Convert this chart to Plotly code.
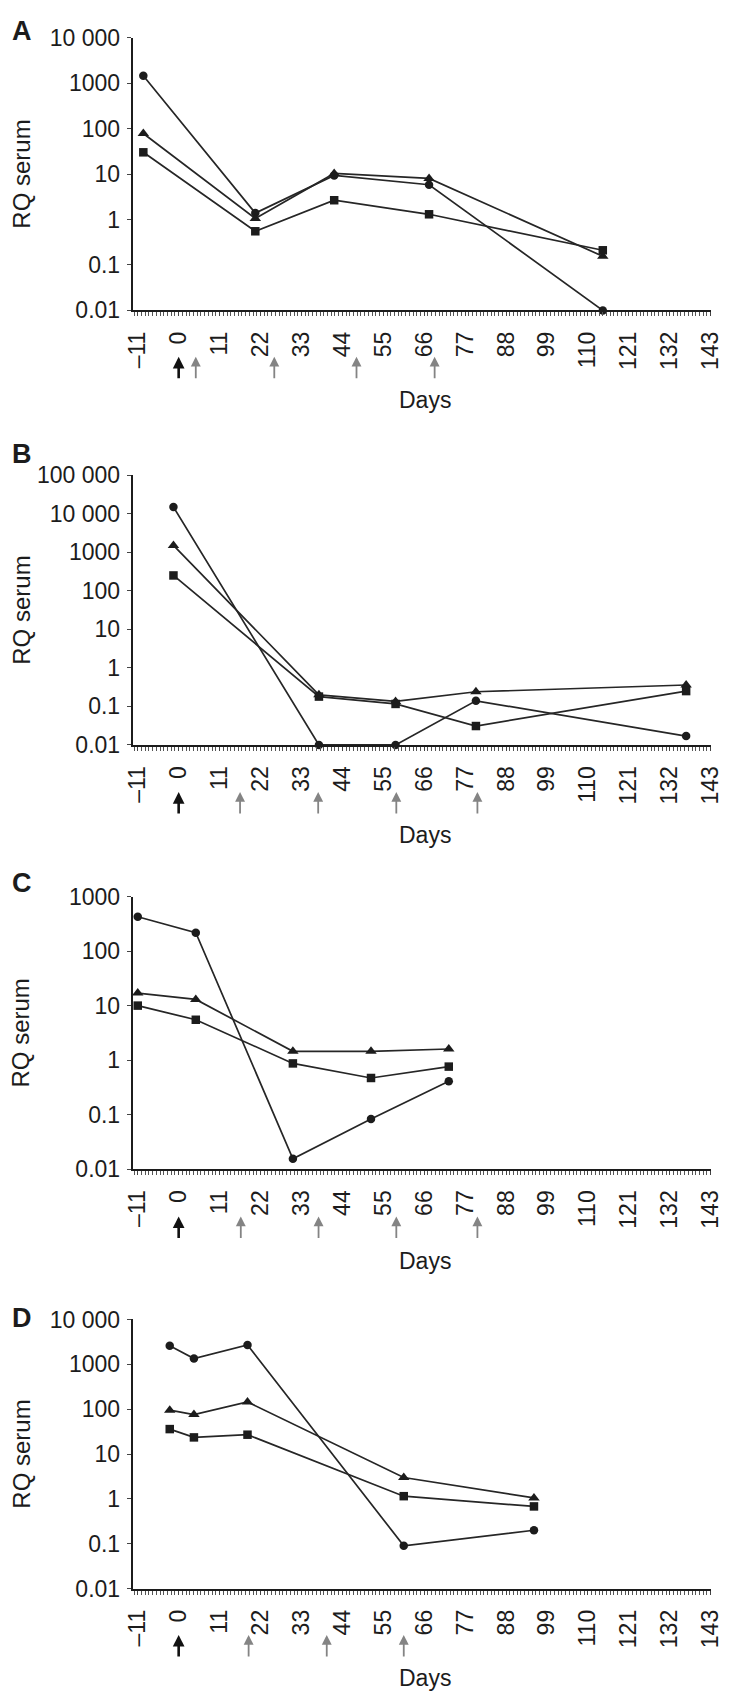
import plotly.graph_objects as go

W, H = 739, 1706

# ---------------- data ----------------
tick_days = list(range(-11, 144, 11))

daysA = [-9.5, 20.6, 41.8, 67.3, 114.0]
circleA = [1450, 1.38, 9.3, 5.8, 0.01]
triangleA = [78, 1.05, 10.3, 8.0, 0.155]
squareA = [30, 0.55, 2.65, 1.3, 0.21]
arrowsA_black = [0]
arrowsA_gray = [4.6, 25.7, 47.8, 68.8]

daysB = [-1.4, 37.7, 58.3, 79.9, 136.4]
circleB = [14900, 0.01, 0.01, 0.14, 0.017]
triangleB = [1500, 0.2, 0.135, 0.24, 0.36]
squareB = [250, 0.18, 0.116, 0.031, 0.25]
arrowsB_black = [0]
arrowsB_gray = [16.5, 37.5, 58.5, 80.3]

daysC = [-11.0, 4.6, 30.7, 51.7, 72.6]
circleC = [427, 217, 0.0155, 0.083, 0.41]
triangleC = [17, 13, 1.45, 1.45, 1.6]
squareC = [10, 5.5, 0.87, 0.47, 0.76]
arrowsC_black = [0]
arrowsC_gray = [16.7, 37.6, 58.5, 80.3]

daysD = [-2.4, 4.1, 18.5, 60.5, 95.5]
circleD = [2600, 1350, 2700, 0.09, 0.2]
triangleD = [95, 76, 145, 3.0, 1.05]
squareD = [36, 23.5, 27, 1.15, 0.68]
arrowsD_black = [0]
arrowsD_gray = [18.8, 39.8, 60.5]

ytick_vals = [0.01, 0.1, 1, 10, 100, 1000, 10000, 100000]
ytick_text = ["0.01", "0.1", "1", "10", "100", "1000", "10 000", "100 000"]
# ---------------------------------------

FONT = "Liberation Sans, Arial, sans-serif"
INK = "#1c1c1c"


def pyp(p):
    return 1 - p / H


def pxp(p):
    return p / W


panels = [
    dict(letter="A", days=daysA, c=circleA, t=triangleA, s=squareA,
         ab=arrowsA_black, ag=arrowsA_gray, top=25, bot=302, ymax=4,
         letter_y=18, days_y=393, arrow_y=349),
    dict(letter="B", days=daysB, c=circleB, t=triangleB, s=squareB,
         ab=arrowsB_black, ag=arrowsB_gray, top=469.3, bot=743.3, ymax=5,
         letter_y=448, days_y=835, arrow_y=791),
    dict(letter="C", days=daysC, c=circleC, t=triangleC, s=squareC,
         ab=arrowsC_black, ag=arrowsC_gray, top=897.3, bot=1174, ymax=3,
         letter_y=883, days_y=1267, arrow_y=1222),
    dict(letter="D", days=daysD, c=circleD, t=triangleD, s=squareD,
         ab=arrowsD_black, ag=arrowsD_gray, top=1326.7, bot=1600, ymax=4,
         letter_y=1325, days_y=1691, arrow_y=1647),
]

X_LEFT, X_RIGHT = 128, 723
XRANGE = [-12.4, 143.2]

fig = go.Figure()
annotations = []
layout = {}

for i, p in enumerate(panels):
    n = "" if i == 0 else str(i + 1)
    xa, ya = "x" + n, "y" + n
    for vals, sym, size in ((p["c"], "circle", 8.5), (p["t"], "triangle-up", 10), (p["s"], "square", 8.5)):
        fig.add_trace(go.Scatter(
            x=p["days"], y=vals, xaxis=xa, yaxis=ya, mode="lines+markers",
            line=dict(color="#262626", width=1.7),
            marker=dict(symbol=sym, size=size, color=INK),
            cliponaxis=False, showlegend=False))

    nt = p["ymax"] + 3
    layout["xaxis" + n] = dict(
        domain=[pxp(X_LEFT), pxp(X_RIGHT)], anchor=ya, range=XRANGE,
        tickmode="array", tickvals=tick_days,
        ticktext=[("\u2013" + str(-d)) if d < 0 else str(d) for d in tick_days],
        tickangle=-90, ticks="outside", ticklen=4, tickwidth=1, tickcolor="#444",
        minor=dict(ticks="outside", dtick=1, tick0=0, ticklen=4, tickwidth=1, tickcolor="#555"),
        showline=True, linecolor=INK, linewidth=2,
        showgrid=False, zeroline=False,
        tickfont=dict(family=FONT, size=23, color=INK),
        ticklabelstandoff=6,
    )
    layout["yaxis" + n] = dict(
        domain=[pyp(p["bot"]), pyp(p["top"])], anchor=xa, type="log",
        range=[-2, p["ymax"]],
        tickmode="array", tickvals=ytick_vals[:nt], ticktext=ytick_text[:nt],
        ticks="outside", ticklen=4, tickwidth=1, tickcolor="#444",
        showline=True, linecolor=INK, linewidth=1.6,
        showgrid=False, zeroline=False,
        tickfont=dict(family=FONT, size=23, color=INK),
        ticklabelstandoff=2,
    )

    annotations.append(dict(text="<b>" + p["letter"] + "</b>", xref="paper", yref="paper",
                            x=pxp(14), y=pyp(p["letter_y"]), xanchor="center", yanchor="middle",
                            showarrow=False, font=dict(family=FONT, size=27, color=INK)))
    annotations.append(dict(text="RQ serum", xref="paper", yref="paper",
                            x=pxp(13), y=pyp((p["top"] + p["bot"]) / 2),
                            xanchor="center", yanchor="middle", showarrow=False,
                            textangle=-90, font=dict(family=FONT, size=24, color=INK)))
    annotations.append(dict(text="Days", xref="paper", yref="paper",
                            x=pxp(429), y=pyp(p["days_y"]), xanchor="center", yanchor="middle",
                            showarrow=False, font=dict(family=FONT, size=23, color=INK)))
    for d in p["ab"]:
        annotations.append(dict(text="", x=d, xref=xa, y=pyp(p["arrow_y"]), yref="paper",
                                showarrow=True, ax=0, ay=23, arrowhead=2, arrowsize=0.9,
                                arrowwidth=2.6, arrowcolor="#111"))
    for d in p["ag"]:
        annotations.append(dict(text="", x=d, xref=xa, y=pyp(p["arrow_y"]), yref="paper",
                                showarrow=True, ax=0, ay=23, arrowhead=2, arrowsize=1.1,
                                arrowwidth=1.8, arrowcolor="#848484"))

fig.update_layout(
    width=W, height=H, margin=dict(l=0, r=0, t=0, b=0),
    paper_bgcolor="white", plot_bgcolor="white",
    annotations=annotations, **layout,
)

fig.write_html(
    "out.html",
    config={"displayModeBar": False},
    post_script="document.body.style.margin='0';document.body.style.padding='0';",
)
